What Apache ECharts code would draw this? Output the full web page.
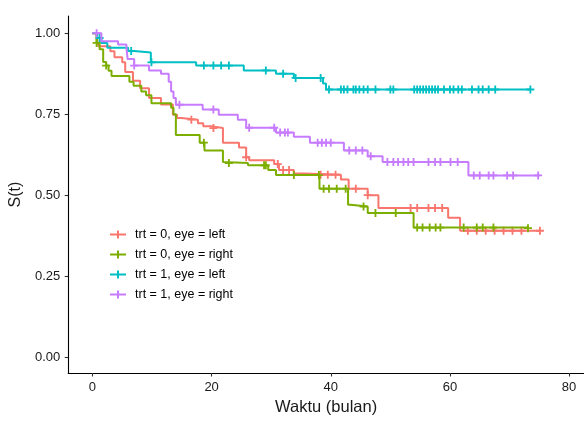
<!DOCTYPE html>
<html>
<head>
<meta charset="utf-8">
<script src="https://cdn.jsdelivr.net/npm/echarts@6/dist/echarts.min.js"></script>
<style>html,body{margin:0;padding:0;background:#fff}#c{width:584px;height:421px}</style>
</head>
<body>
<div id="c"></div>
<script>
// ---- data ----
const groupNames = ['trt = 0, eye = left', 'trt = 0, eye = right', 'trt = 1, eye = left', 'trt = 1, eye = right'];
const groupColors = ['#F8766D', '#7CAE00', '#00BFC4', '#C77CFF'];

// step times and survival values (trt=0, left)
const t0L = [0, 0.7, 1.0, 3.0, 3.7, 5.0, 5.5, 6.8, 8.0, 9.5, 11.5, 13.5, 14.2, 14.9, 17.7, 18.6, 19.9, 21.9, 24.6, 25.8, 26.3, 30.5, 31.3, 33.8, 35.5, 41.7, 43.0, 46.2, 48.0, 59.7, 61.7, 75.1];
const s0L = [1.0, 0.985, 0.96, 0.944, 0.926, 0.91, 0.88, 0.853, 0.83, 0.80, 0.78, 0.748, 0.738, 0.733, 0.722, 0.713, 0.707, 0.662, 0.647, 0.617, 0.608, 0.596, 0.578, 0.567, 0.563, 0.548, 0.52, 0.50, 0.46, 0.43, 0.39, 0.39];
const c0L = [16.6, 20.3, 25.8, 31.1, 32.0, 33.0, 38.3, 39.5, 40.8, 44.2, 46.2, 53.4, 54.5, 56.4, 57.5, 58.7, 63.0, 64.5, 66.0, 67.5, 69.0, 70.5, 72.0, 75.1];

// trt=0, right
const t0R = [0, 0.7, 1.2, 1.8, 2.3, 2.7, 3.2, 6.2, 6.9, 8.2, 9.0, 9.9, 13.2, 13.6, 14.0, 18.0, 18.8, 21.9, 22.1, 26.1, 29.5, 30.8, 38.1, 42.9, 43.3, 46.2, 53.9, 73.1];
const s0R = [1.0, 0.97, 0.95, 0.911, 0.90, 0.884, 0.868, 0.85, 0.838, 0.82, 0.808, 0.784, 0.77, 0.75, 0.686, 0.662, 0.638, 0.602, 0.599, 0.592, 0.578, 0.562, 0.52, 0.47, 0.465, 0.445, 0.40, 0.398];
const c0R = [0.7, 2.3, 18.7, 22.9, 28.8, 29.1, 33.8, 38.0, 38.8, 39.7, 41.0, 42.5, 45.5, 47.5, 50.9, 54.5, 55.4, 56.6, 57.6, 58.4, 62.3, 64.5, 65.5, 67.3, 73.1];

// trt=1, left
const t1L = [0, 0.8, 1.5, 2.5, 6.0, 7.0, 9.8, 17.4, 25.4, 30.8, 33.8, 38.7, 39.2, 73.5];
const s1L = [1.0, 0.985, 0.97, 0.955, 0.945, 0.94, 0.91, 0.90, 0.885, 0.875, 0.862, 0.845, 0.826, 0.826];
const c1L = [1.2, 6.5, 9.9, 18.7, 20.3, 21.6, 22.9, 29.1, 32.0, 34.1, 38.3, 39.7, 41.7, 42.2, 42.8, 43.8, 44.2, 44.8, 45.5, 46.2, 47.5, 50.0, 50.5, 54.0, 54.5, 55.0, 55.5, 56.0, 56.5, 57.0, 57.5, 58.0, 59.0, 60.0, 60.6, 61.4, 62.0, 63.7, 64.8, 65.5, 66.5, 67.6, 73.5];

// trt=1, right
const t1R = [0, 1.5, 4.3, 5.7, 5.9, 7.0, 9.5, 11.5, 12.8, 13.2, 13.6, 14.0, 18.5, 21.2, 24.4, 25.8, 30.8, 33.8, 36.5, 42.2, 46.2, 48.7, 63.1, 75.1];
const s1R = [1.0, 0.975, 0.965, 0.955, 0.92, 0.90, 0.885, 0.875, 0.85, 0.82, 0.80, 0.779, 0.764, 0.748, 0.733, 0.708, 0.693, 0.68, 0.662, 0.638, 0.62, 0.602, 0.561, 0.561];
const c1R = [0.7, 7.0, 14.6, 20.3, 26.3, 30.5, 31.5, 32.3, 32.8, 37.8, 38.5, 39.2, 40.0, 43.1, 44.2, 45.3, 46.7, 49.5, 50.5, 51.3, 52.2, 53.0, 53.9, 56.4, 57.5, 58.4, 60.1, 61.3, 64.0, 65.0, 66.5, 67.3, 69.6, 70.6, 74.8];

const xTicks = [0, 20, 40, 60, 80];
const yTicks = [0, 0.25, 0.5, 0.75, 1.0];

// ---- build ----
const stepT = [t0L, t0R, t1L, t1R];
const stepS = [s0L, s0R, s1L, s1R];
const cens = [c0L, c0R, c1L, c1R];

function survAt(ts, ss, t) {
  let v = ss[0];
  for (let i = 0; i < ts.length; i++) { if (ts[i] <= t) v = ss[i]; else break; }
  return v;
}

const plusPath = 'path://M-1.6,-7h3.2v5.4h5.4v3.2h-5.4v5.4h-3.2v-5.4h-5.4v-3.2h5.4z';
const legendIcon = 'path://M0,3H7V0H9V3H16V5H9V8H7V5H0Z';
const font = 'Liberation Sans, Arial, sans-serif';

const series = [];
for (let g = 0; g < 4; g++) {
  series.push({
    name: groupNames[g], type: 'line', step: 'end', showSymbol: false, symbol: 'none',
    data: stepT[g].map((t, i) => [t, stepS[g][i]]),
    lineStyle: { color: groupColors[g], width: 2 }, itemStyle: { color: groupColors[g] },
    silent: true, animation: false, z: 2 + g
  });
  series.push({
    name: groupNames[g], type: 'scatter', symbol: plusPath, symbolSize: 8,
    data: cens[g].map(t => [t, survAt(stepT[g], stepS[g], t)]),
    itemStyle: { color: groupColors[g], opacity: 1 }, silent: true, animation: false, z: 2 + g
  });
}

const chart = echarts.init(document.getElementById('c'), null, { renderer: 'canvas' });
chart.setOption({
  backgroundColor: '#fff',
  animation: false,
  grid: { left: 66.7, top: 16, right: 0, bottom: 41, containLabel: false },
  legend: {
    left: 105, top: 223, orient: 'vertical', itemWidth: 16, itemHeight: 8, itemGap: 7,
    data: groupNames.map((n, i) => ({ name: n, icon: legendIcon, itemStyle: { color: groupColors[i] } })),
    textStyle: { fontFamily: font, fontSize: 12.5, color: '#000', padding: [0, 0, 0, 4] },
    selectedMode: false
  },
  xAxis: {
    type: 'value', min: -4.07, max: 82.5,
    splitLine: { show: false },
    axisLine: { onZero: false, lineStyle: { color: '#000', width: 1.1 } },
    axisTick: { customValues: xTicks, length: 3.5, lineStyle: { color: '#333', width: 1.1 } },
    axisLabel: { customValues: xTicks, margin: 8, fontSize: 13, color: '#1a1a1a', fontFamily: font },
    name: 'Waktu (bulan)', nameLocation: 'middle', nameGap: 26,
    nameTextStyle: { fontSize: 16.5, color: '#1a1a1a', fontFamily: font }
  },
  yAxis: {
    type: 'value', min: -0.049, max: 1.053,
    splitLine: { show: false },
    axisLine: { onZero: false, lineStyle: { color: '#000', width: 1.1 } },
    axisTick: { customValues: yTicks, length: 3.5, lineStyle: { color: '#333', width: 1.1 } },
    axisLabel: { customValues: yTicks, margin: 8, fontSize: 13, color: '#1a1a1a', fontFamily: font,
      formatter: v => v.toFixed(2) },
    name: 'S(t)', nameLocation: 'middle', nameGap: 40, nameRotate: 90,
    nameTextStyle: { fontSize: 16, color: '#1a1a1a', fontFamily: font }
  },
  series: series
});
</script>
</body>
</html>
